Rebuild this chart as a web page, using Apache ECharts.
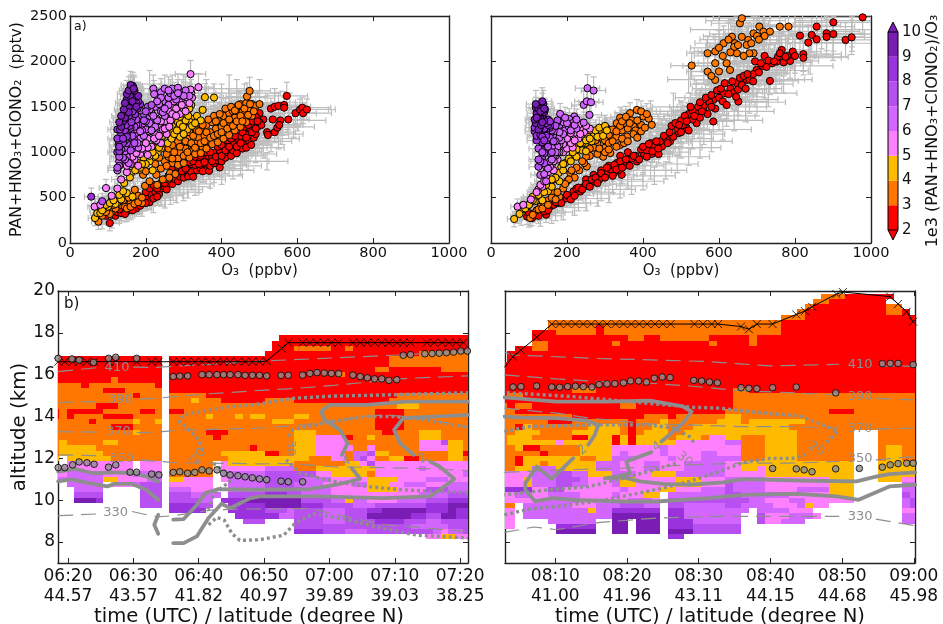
<!DOCTYPE html>
<html><head><meta charset="utf-8">
<style>html,body{margin:0;padding:0;background:#fff}#c{width:943px;height:624px}</style>
<script src="https://cdn.jsdelivr.net/npm/echarts@6/dist/echarts.min.js"></script></head>
<body><div id="c"></div><script>
// ---------- colour classes of the ratio 1e3 (PAN+HNO3+ClONO2)/O3 ----------
const classCodes=['r','o','y','p','l','m','v','d'];
const classColors=['#ff0000','#ff7700','#ffbb00','#ff80ff','#d366ff','#b84ff0','#9a33dd','#7a1db5'];
const colorbarTicks=[2,3,4,5,6,7,8,9,10];
// ---------- scatter: first flight part, [O3 ppbv, NOy pptv] ----------
const redA=[[105,220],[95,300],[110,310],[120,300],[125,340],[135,330],[140,360],[150,350],[155,390],[165,400],[170,430],[175,380],[180,460],[190,440],[195,480],[205,500],[210,450],[215,530],[225,560],[235,540],[240,600],[250,620],[255,590],[262,660],[270,650],[278,700],[285,680],[290,730],[300,720],[310,760],[312,733],[320,780],[325,730],[335,800],[345,820],[350,790],[360,870],[367,795],[370,850],[380,880],[395,832],[390,910],[400,900],[410,940],[415,1000],[425,960],[430,1020],[440,990],[445,1070],[455,1040],[460,1100],[465,1050],[470,1130],[478,1080],[485,1160],[490,1200],[495,1280],[250,700],[260,740],[270,780],[280,800],[290,830],[300,800],[310,850],[320,870],[330,860],[340,900],[350,880],[355,940],[365,960],[375,950],[385,1000],[395,1020],[405,1060],[410,1100],[420,1130],[430,1090],[440,1160],[450,1180],[460,1210],[470,1190],[475,1260],[485,1300],[500,1430],[510,1360],[520,1220],[522,1190],[530,1480],[535,1360],[540,1500],[550,1510],[565,1520],[565,1490],[572,1620],[555,1350],[576,1360],[540,1220],[547,1270],[552,1300],[595,1430],[607,1470],[613,1490],[615,1430],[625,1470],[490,1390],[500,1330],[505,1300],[130,370],[145,320],[165,360],[185,410],[200,440],[220,490],[230,510],[200,560],[210,600],[220,640],[230,600],[240,660],[250,660],[260,700],[265,760],[270,810],[280,770],[285,840],[295,790],[300,880],[305,820],[310,920],[315,890],[325,900],[330,950],[340,870],[345,960],[355,890],[360,1000],[370,1000],[375,900],[385,950],[390,1060],[400,960],[400,1080],[410,1020],[415,1130],[420,1060],[425,1150],[435,1180],[440,1060],[450,1100],[455,1220],[460,1280],[465,1160],[470,1300],[480,1220],[482,1340],[490,1260],[495,1340]];
const orangeA=[[75,235],[85,300],[100,350],[110,340],[120,380],[135,420],[150,450],[165,490],[175,470],[190,440],[171,586],[198,630],[228,751],[264,770],[193,751],[184,806],[200,790],[240,820],[250,900],[260,950],[265,1000],[270,880],[280,1050],[285,930],[290,1000],[295,1100],[300,960],[305,1040],[315,1150],[320,1010],[325,1080],[330,1200],[335,1100],[340,1160],[345,1260],[350,1050],[355,1180],[360,1300],[365,1120],[370,1220],[375,1330],[385,1260],[390,1350],[395,1160],[400,1280],[405,1400],[410,1220],[415,1330],[420,1430],[425,1300],[430,1450],[435,1380],[440,1500],[445,1300],[450,1530],[455,1440],[460,1380],[465,1540],[470,1480],[467,1613],[474,1675],[480,1530],[490,1510],[500,1530],[255,850],[270,930],[285,860],[300,880],[315,940],[330,980],[345,990],[360,1040],[375,1090],[390,1110],[405,1150],[420,1190],[435,1240],[450,1280],[465,1330],[480,1400],[115,420],[130,460],[145,400],[160,440],[180,520],[210,680],[230,640],[245,700],[262,720],[278,760],[225,870],[235,940],[250,1040],[265,1120],[280,1160],[255,980],[260,1040],[270,1080],[275,1000],[285,1120],[290,1060],[295,1180],[305,1120],[310,1000],[315,1220],[320,1100],[325,1180],[330,1050],[335,1240],[340,1230],[345,1100],[350,1300],[355,1120],[360,1220],[365,1360],[370,1160],[380,1400],[380,1180],[385,1340],[390,1200],[395,1420],[400,1220],[405,1320],[410,1480],[415,1260],[420,1360],[425,1500],[430,1290],[435,1460],[440,1340],[445,1520],[450,1400],[455,1340],[460,1480],[470,1410],[475,1530],[485,1450],[150,380],[160,400],[170,430],[180,450],[190,500],[140,470],[155,500],[125,440],[105,320],[95,340]];
const amberA=[[66,275],[72,330],[80,330],[90,380],[100,400],[110,470],[125,500],[143,660],[150,550],[161,770],[158,722],[180,880],[195,930],[205,1000],[215,1040],[225,1090],[232,1000],[240,1150],[250,1200],[258,1100],[265,1230],[275,1290],[285,1260],[290,1170],[300,1400],[310,1450],[311,1547],[350,1466],[356,1606],[380,1602],[300,1330],[320,1370],[335,1400],[270,1380],[280,1350],[120,430],[135,480],[165,510],[210,900],[225,960],[240,1040],[255,1300],[270,1170],[285,1330],[310,1250],[318,1330],[345,1350],[185,830],[200,870],[218,800],[230,1120],[245,1180],[255,1240],[262,1290],[268,1150],[275,1200],[282,1240],[290,1310],[298,1280],[305,1350],[312,1400],[322,1290],[330,1320],[300,1200],[210,960],[218,1000],[235,1050],[190,870],[172,800],[85,360],[95,420],[105,440],[115,470],[130,530],[140,570],[290,1390],[320,1520],[315,1480]];
const pinkA=[[65,400],[80,420],[95,605],[110,520],[125,600],[135,700],[150,780],[170,920],[180,850],[195,1000],[205,1150],[215,1060],[225,1200],[235,1280],[240,1100],[250,1340],[215,1300],[255,1200],[265,1350],[275,1560],[290,1420],[300,1480],[305,1530],[310,1600],[320,1650],[339,1716],[318,1860],[318,1690],[160,870],[190,1100],[205,1050],[228,1130],[245,1250],[185,980],[220,1260],[200,1220],[260,1450],[280,1480],[290,1550],[322,1600],[150,850],[165,950],[175,990],[185,1040],[200,1100],[210,1230],[222,1150],[235,1180],[250,1260],[262,1280],[270,1420],[280,1400],[295,1520],[305,1450],[315,1540],[240,1340],[228,1370],[190,1040],[205,970]];
const lilacA=[[125,800],[130,900],[140,1000],[150,950],[160,1100],[170,1050],[175,1200],[185,1150],[190,1300],[200,1250],[205,1380],[215,1430],[225,1500],[230,1350],[240,1450],[245,1560],[250,1400],[220,1700],[240,1660],[250,1700],[270,1700],[285,1710],[295,1650],[305,1680],[315,1620],[280,1580],[260,1600],[150,1020],[165,1150],[180,1050],[195,1180],[210,1320],[225,1280],[245,1440],[260,1520],[180,1300],[170,1250],[222,1640],[300,1620],[155,880],[145,920],[135,950],[145,1010],[155,1150],[160,1220],[170,1130],[178,1100],[190,1240],[200,1340],[215,1240],[220,1400],[235,1530],[250,1480],[265,1650],[275,1620],[285,1650],[260,1680],[240,1600],[230,1560],[185,1230],[165,1070],[150,1250],[210,1470]];
const mediumA=[[85,460],[130,850],[125,1000],[135,1150],[145,1050],[155,1250],[165,1180],[175,1300],[185,1380],[190,1450],[205,1500],[125,830],[140,940],[150,1100],[160,1020],[170,1280],[180,1400],[195,1420],[215,1520],[195,1350],[155,1450],[170,1450],[135,1030],[145,1130],[150,1190],[160,1270],[165,1340],[175,1360],[185,1460],[200,1450],[140,1220],[130,950],[155,1350],[170,1100]];
const violetA=[[56,510],[130,1010],[128,1080],[135,1190],[140,1100],[145,1240],[150,1170],[140,1300],[150,1350],[158,1290],[165,1380],[172,1420],[160,1450],[150,1480],[168,1520],[178,1480],[185,1530],[155,1540],[175,1580],[130,1130],[125,1250],[138,1380],[130,1060],[125,1150],[132,1250],[140,1150],[148,1300],[155,1400],[162,1330],[170,1480],[180,1560],[165,1450],[150,1530],[145,1450],[160,1510],[172,1550]];
const darkA=[[140,1340],[148,1420],[155,1500],[160,1560],[165,1600],[162,1640],[165,1680],[166,1730],[160,1700],[170,1620],[180,1620],[175,1540],[145,1380],[135,1280],[150,1580],[158,1620],[130,1330],[145,1540],[150,1640],[155,1680],[170,1680],[165,1560],[175,1500],[155,1440],[142,1470],[160,1740],[168,1700],[135,1400]];
const greyOnlyA=[[100,280],[130,300],[160,340],[190,380],[220,420],[250,470],[280,540],[310,590],[340,650],[370,700],[400,740],[430,800],[450,850],[470,900],[490,980],[510,1050],[530,1120],[560,1200],[590,1280],[430,1000],[470,1100],[500,1200],[540,1300],[440,1650],[400,1600],[420,1550],[380,1500],[360,1550],[500,1650],[540,1550],[580,1500],[350,760],[380,820],[410,860],[290,620],[320,680],[200,460],[170,430],[140,360],[120,330],[85,240],[110,250],[520,900],[460,960],[400,820],[300,560],[265,520],[300,1700],[360,1650],[420,1700],[460,1600],[480,1350],[520,1250],[560,1300],[600,1350],[210,1750],[450,1000],[500,1120],[550,1150],[420,900],[380,760],[330,620],[240,500],[180,400],[150,320],[90,290],[75,280],[70,360],[100,500]];
// ---------- scatter: second flight part ----------
const redB=[[145,312],[108,275],[156,403],[195,488],[182,476],[217,568],[235,568],[270,678],[296,733],[323,770],[344,751],[331,880],[358,880],[384,898],[401,990],[423,982],[441,979],[450,1063],[471,1118],[493,1210],[515,1265],[541,1320],[585,1338],[559,1466],[585,1576],[612,1650],[651,1558],[647,1760],[673,1796],[699,1906],[734,1785],[752,1998],[787,2005],[765,2126],[794,2108],[822,2080],[822,2040],[813,2284],[835,2207],[844,2291],[857,2243],[857,2383],[883,2309],[883,2270],[901,2302],[901,2430],[933,2236],[949,2265],[978,2485],[95,290],[120,330],[130,340],[165,420],[175,440],[205,510],[225,600],[245,620],[255,650],[285,700],[305,780],[315,810],[335,800],[350,850],[370,930],[380,960],[395,1030],[410,1020],[420,1100],[430,1060],[445,1120],[460,1150],[480,1170],[490,1260],[505,1300],[520,1240],[530,1360],[520,1420],[540,1440],[550,1380],[560,1510],[570,1420],[575,1550],[590,1480],[600,1600],[610,1560],[620,1520],[630,1700],[640,1660],[650,1690],[660,1740],[670,1700],[680,1800],[690,1860],[705,1880],[715,1950],[725,1940],[740,1980],[755,2050],[770,1990],[780,2060],[340,960],[360,1000],[310,850],[290,800],[270,750],[250,700],[500,1350],[530,1460],[545,1500],[100,330],[110,320],[125,300],[140,350],[150,360],[170,450],[185,440],[200,530],[210,480],[220,520],[230,610],[240,590],[250,650],[260,620],[265,700],[275,720],[280,660],[290,770],[300,720],[305,830],[320,740],[325,860],[330,810],[340,900],[345,830],[355,920],[365,850],[375,960],[390,920],[400,1060],[410,950],[415,1090],[425,1010],[435,1120],[440,1040],[455,1180],[465,1100],[470,1220],[475,1290],[485,1320],[495,1300],[500,1220],[510,1400],[515,1340],[525,1500],[535,1400],[550,1550],[555,1450],[565,1600],[580,1630],[580,1500],[595,1680],[605,1700],[615,1760],[625,1640],[635,1780],[645,1610],[655,1820],[665,1840],[675,1860],[690,1780],[695,2000],[710,1980],[720,2060],[730,2010],[745,2000],[760,2090],[775,2050],[800,2060]];
const orangeB=[[528,1954],[570,2090],[570,1888],[590,1980],[590,2110],[612,2200],[634,2272],[642,2200],[655,2420],[660,2475],[677,2236],[691,2309],[706,2383],[717,2328],[734,2328],[760,2383],[783,2383],[647,2090],[620,1980],[629,1906],[673,2181],[691,2090],[590,1796],[625,2240],[660,2270],[700,2280],[720,2280],[640,2160],[600,2150],[680,2090],[384,1466],[401,1393],[366,1430],[375,1283],[423,1301],[331,1320],[304,1265],[310,1190],[358,1173],[314,990],[295,950],[252,843],[209,770],[232,800],[165,550],[103,275],[395,1450],[415,1370],[410,1420],[345,1240],[360,1260],[330,1170],[320,1250],[280,1090],[290,1160],[270,1050],[300,1050],[340,1080],[260,960],[245,880],[220,720],[190,600],[150,470],[130,400],[120,360],[180,510],[200,680],[300,1130],[350,1320],[340,1380],[370,1350],[380,1240],[395,1300],[310,1100],[350,1100],[280,980],[330,1230],[340,1290],[345,1340],[355,1390],[365,1320],[385,1350],[395,1230],[405,1270],[320,1120],[300,1000],[285,1040],[275,1130],[260,1040],[250,950],[240,900],[225,830],[212,800],[205,700],[195,650],[175,560],[160,500],[140,430],[110,310],[125,370],[135,380],[150,420],[170,480],[310,1030],[330,1060],[345,1150],[360,1120],[375,1200],[385,1160],[610,2060],[650,2180],[665,2060],[685,2200],[705,2240],[630,2100],[600,1890],[580,1840]];
const amberB=[[61,264],[82,367],[103,440],[121,513],[143,605],[156,660],[178,770],[195,880],[217,971],[231,1063],[248,1100],[270,1191],[292,1228],[260,1240],[280,1170],[240,1020],[225,1030],[205,930],[240,1100],[255,1170],[185,840],[165,700],[150,570],[130,560],[115,460],[95,400],[75,320],[135,470],[110,510],[295,1180],[250,1010],[265,1120],[300,1250],[180,680],[160,620],[170,720],[190,800],[210,900],[225,950],[235,1100],[250,1130],[260,1150],[275,1240],[285,1270],[300,1290],[305,1240],[90,380],[100,420],[110,470],[125,530],[140,560],[160,700],[145,640],[190,870],[215,1000]];
const pinkB=[[70,400],[85,420],[105,480],[125,590],[135,620],[145,730],[160,860],[175,920],[190,1000],[200,1040],[170,1030],[185,1100],[205,1130],[215,1180],[225,1210],[200,1200],[190,1180],[215,1050],[230,1150],[245,1220],[260,1260],[170,960],[150,780],[165,800],[235,1270],[210,1100],[180,1000],[120,560],[130,640],[140,680],[155,840],[165,900],[175,1000],[190,1090],[200,1150],[210,1210],[220,1130],[235,1200],[250,1290],[180,1080],[170,1100],[160,960],[215,1280],[230,1300]];
const lilacB=[[254,1705],[270,1679],[244,1521],[252,1560],[263,1550],[219,1393],[206,1364],[244,1327],[182,1422],[259,1411],[130,750],[145,840],[155,900],[165,960],[175,1060],[185,1130],[195,1240],[205,1280],[180,1300],[165,1180],[155,1090],[170,1240],[190,1330],[215,1320],[225,1260],[160,1050],[145,680],[140,760],[150,820],[160,920],[170,1000],[180,1160],[190,1200],[200,1320],[210,1240],[220,1300],[170,1120],[180,1220],[155,990],[165,1230],[195,1380],[175,1340],[225,1360]];
const mediumB=[[125,840],[135,950],[145,1030],[150,1140],[155,1200],[165,1300],[175,1350],[160,1000],[140,880],[135,1100],[125,1040],[130,900],[140,990],[145,1100],[150,1060],[155,1160],[160,1240],[170,1290],[165,1120],[135,1000],[145,1210],[125,920],[155,1270]];
const violetB=[[115,1230],[125,1180],[135,1110],[145,1260],[155,1290],[125,1300],[135,1240],[145,1180],[120,1130],[150,1360],[120,1180],[130,1190],[140,1260],[128,1260],[150,1300],[115,1270],[135,1170],[145,1320],[125,1340],[140,1130],[155,1340]];
const darkB=[[118,1320],[125,1250],[132,1300],[140,1350],[120,1430],[118,1490],[135,1400],[140,1440],[135,1500],[138,1530],[142,1470],[130,1370],[115,1360],[125,1370],[135,1330],[125,1480],[120,1380],[118,1530],[130,1450],[140,1480],[135,1560]];
const greyOnlyB=[[100,260],[130,270],[160,300],[190,340],[220,390],[250,440],[280,490],[310,540],[340,590],[370,630],[400,680],[430,740],[460,800],[490,870],[520,950],[550,1050],[580,1120],[610,1250],[640,1350],[670,1450],[700,1550],[730,1650],[770,1800],[800,1950],[840,2050],[900,2200],[950,2350],[620,2100],[560,1950],[520,1800],[480,1500],[420,1450],[440,1300],[600,2350],[640,2450],[700,2450],[800,2480],[900,2450],[540,1600],[350,1000],[430,1040],[470,1000],[530,1150],[600,1350],[650,1500],[690,1700],[750,1800],[500,1050],[400,850],[320,650],[650,2300],[720,2400],[820,2400],[870,2330],[950,2300],[600,1750],[640,1900],[500,1450],[450,1250],[380,1350],[350,1250],[300,1180],[250,1000],[560,1200],[620,1400],[680,1580],[720,1750],[760,1900],[420,800],[360,700],[290,560],[230,440],[170,330],[80,280],[70,300]];
// readings of the error bars: half-widths by O3 and by NOy bin
const errO3Bins=[[100,18],[200,25],[300,32],[400,40],[600,55],[800,75],[1001,100]];
const errNoyBins=[[500,85],[1000,95],[1500,115],[2000,150],[2600,190]];
// ---------- curtains: one run-length row per altitude, one letter per class ('.' = no data) ----------
const rowAltsA=[17.75,17.5,17.25,17,16.75,16.5,16.25,16,15.75,15.5,15.25,15,14.75,14.5,14.25,14,13.75,13.5,13.25,13,12.75,12.5,12.25,12,11.75,11.5,11.25,11,10.75,10.5,10.25,10,9.75,9.5,9.25,9,8.75,8.5,8.25];
const rowsA=[
"15. . 13. 2. 26r",
"15. . 13. . 27r",
"15. . 13. . 3r 5o 2r o 16r",
"15. . 13. 21r 7o",
"15r . 13r 17r 11o",
"15r . 13r 17r 11o",
"15r . 13r 15r 2o 7r 4o",
"15r . 13r 10r o 17r",
"8r o 6r . 13r 28r",
"4o r 9o r . 13r 28r",
"7o 3r 5o . 13r 28r",
"11o r 3o . 5o 8r 18r 10o",
"15o . 3o y 3o 6r 4o 13r 11o",
"6o 3r 6o . 13o 18o 3y 7o",
"r o 5r 5o 2r o . 2r 11o 15o 4r 9o",
"r o r 4o 4r 4o . 5o y 3o y o 2y 4o 2y 9o 4r 9o",
"5o r 5o y 2o y . 13o o 3y 11o 4r 9o",
"8o 3r 4o . 13o 15o 4r 9o",
"11o y 3o . 5o 3r 5o 4o 3y 5o 4o 2r 3o 3y 4o",
"15o . 6o r 6o 4o 3y 4p r 2o y 6o 3y 4o",
"o y 5o 2y 6o . 13o 4o 3y 4p 10o 3p m 2y o",
"o 5y 9o . 11o r o 4o 3y 5p 2o p 6o 4p 2y o",
"o 6y 8o . 7o 6y 2r 2o 3y 4p o 2l m 2y 3o 5o 2y r",
"y . 6y 7o . 8o 5y 6y 3o 2p o l m p 2o 2y 2r 4o 2y o",
"2. 9p . 3p . 6o . p 5y 4y 7o 2y p m 13p",
". 10p . 3p . 6o . p 5p 4l 3o 8y 6p l 6p",
"2p 5l 4p l 3l . 6o . p 5l 7m 2p 5y o 12p l",
"7l 2y 4p 2l . 2y 4p . p 5l 5m 4l 5p 4y 4p 3l 3p",
"2. 5l . 3p l 3m . 6p 2. 5l 4m 4l 4p 2l 3y 2p 3l 3p 3l",
"3. 4l 5. 3m . 3l 3p 2. 5l 5m 4l 5p 4y 4p 3m 3l",
"3. 4m 5. 3m . 3m 4l . 5m 3v 2m 4l 12p 4l 3m",
"3. 3d v 5. 3m . 4m 2l . v 2v 3d 5d 4m 2l y 2l 4p 4l 3m 3v",
"12. 3m . 4v 2m 2. 5v 5d 3v 4m 3l 7m 3v 3d",
"15. . 5v 3. 5v 3m l 4m 3l 3m 2v 6d 3v d 2v",
"15. . 9. 4v 2v 2l 4m 3l 3m 6d 2v 2m 2d 2v",
"15. . 10. 3m 4. 4m 3l 4m 4v 3m 2l 4m",
"15. . 13. 4. 4m 12m 5l 3m",
"15. . 13. 4. 4v 3m 3l 9m l p 2l m",
"15. . 13. 22. 2p 2y 2p"
];
const rowAltsB=[19.75,19.5,19.25,19,18.75,18.5,18.25,18,17.75,17.5,17.25,17,16.75,16.5,16.25,16,15.75,15.5,15.25,15,14.75,14.5,14.25,14,13.75,13.5,13.25,13,12.75,12.5,12.25,12,11.75,11.5,11.25,11,10.75,10.5,10.25,10,9.75,9.5,9.25,9,8.75,8.5,8.25];
const rowsB=[
"6. 22. 12. 3o 6r 3.",
"6. 22. 11. 2o 7r 4.",
"6. 22. 10. o 9r 2o 2.",
"6. 22. 9. o 10r 2o r .",
"6. 22. 7. 3o 14r",
"6. 22o 7o 17r",
"6. 6o r 15o 7o 17r",
"4. 2r r 5o r 15o 7o 17r",
"4. 2r 10r 2o 2r 6o 2r 3r o 20r",
"4. 2o 8r o 11r o r 3r o 20r",
"2. 2r 2o 22r 24r",
". 5r 22r 24r",
". 5r 22r 24r",
"6r 22r 24r",
"6r 22r 24r",
"6r 22r 24r",
"6r 22r 24r",
"6r 22r 24r",
"6r 3r 3o 16r r 2o 21r",
"r 2o 3r 22r r 23o",
"6r 22r r 23o",
"o r 2o 2r 9r 2o 11r r 23o",
"2o 4r 22r 13o 3r 8o",
"6o 3o 9r 2o o r 6o 2y 22o",
"6o 3r 3o 4o r 3o y 6o y 2y o 7y 14o",
"2o r y 2o 5o 4y o r 2o 2y 3o 4y 8y 16o",
"2o 3y o 3o 6y o r o 3y 2o 5y 9y 7o 3. 5o",
"o 3y 2o 3o 2r 2y y r y r 2y 2y o 3y o 2p 2y 3o 4y 7o 3. 5o",
"o 5y y p 6y r y r 2y 2y y 3p 3p 2l 3o 4y 7o 3. 5o",
"2o y 2r o 4o 4y 6p l 3p 3p p 2p 3o 4y 7o 3. o 2y 2o",
"5o r 4o 4y p l 4p l 3p p 2l p 2p 3o 4y 7o 3. o 2y 2o",
"2o r 3y 4y 2o 2y 3l 4p l 3p 3l 2l 3o 4y 7o 3. o 2y 2o",
"2o r 2y o 6y 3l 3p 2l 3p 5l 2p 14y 3. 5y",
"2o 2y 2l l 5y 3l 3p 2l 3p 5l 2p 2y p 11y 3. 5y",
"4p 2l l 2m 2l 3y 3l 2p 3y 6l 5p 11y 3. 5y",
"3p y 2l l 3m l 3p l 2y 5p 3y 3p 5l 8p 3y 3. 3y 2p",
"3p y 2l l 2m 2l 3p l 2y 5p 3y 3p m 4l 8p 3y 6. 2l",
"4v 2p 2m 5p 2p l p 3p 2y 3p 3l m 4l 4p 4l 3y 6. 2l",
"2p 2l 2p 4l 4p l 3p 2y . 7l 2m 3l 3l 5p 3y 6. m l",
"5p l 4l 6p 3l p . 7m 3m 2l 3p 2l 3p 3p 6. l m",
"2o . 3l 3l 3p 3l 3m 2l . 2m 5l 2m 4l 3p l y 2p 9. l m",
"2p . 3l 5l y 2l 6v . 2v 5l 3l . l 3l 3p 2. 9. 2p",
"2p . 3l 8l 6d . 2v 5l 2l 2. m 3p 3l p . 9. 2l",
"2p 4. 6l 2. 2d . 3d . 3v 4l 2l 2. m 2p 3l 3. 9. 2l",
"2p 4. . 5v 2. 2d . 3d . 3v 4m 2m 22.",
"6. . 5d 2. 2d . 3d . 3d 4m 2m 22.",
"6. 15. 2v 5. 24."
];
const cellStartA=377.55, cellStepA=1.1225, cellStartB=482.19, cellStepB=1.1227;
// ---------- contours in the curtains: [time in minutes of the day, altitude]; null = a gap ----------
const thetaA=[
[[378.5,16.15],[384.9,16.35],null,[390,16.36],[393.6,16.35],[396.1,16.4],[402.2,16.5],[409.4,16.65],[420.6,16.8],[430.3,16.94],[441.2,17.1]],
[[378.5,14.67],[384.9,14.72],null,[391,14.83],[393.6,14.87],[396.1,14.95],[402.2,15.1],[409.4,15.25],[415,15.35],[421,15.5],[432,15.83],[441.2,15.94]],
[[378.5,13.28],[384.5,13.25],null,[390.5,13.23],[393.6,13.25],[396.1,13.33],[402.2,13.39],[409.4,13.44],[416,13.6],[421,13.84],[428,14.07],[432,14.0],[436,13.8],[441.2,13.52]],
[[378.5,12.17],[385.5,12.12],null,[391,11.93],[396.1,11.8],[402.2,11.77],[409.4,11.74],[414,11.75],[420.6,11.6],[433,11.53],[441.2,11.42]],
[[378.5,9.26],[384.8,9.35],null,[389.8,9.46],[393.6,9.2],[396.1,9.26],[402.2,9.54],[406.8,9.58],[417,9.6],[428.3,8.83],[441.2,8.5]]];
const thetaB=[
[[483,17.05],[484.2,16.94],[495.8,16.78],[511.1,16.63],[515.7,16.52],[519.9,16.42],[529.6,16.5],null,[535.2,16.42],[540.2,16.4]],
[[482.9,15.99],[490.2,15.8],[496.2,15.67],[503.2,15.59],[508.7,15.46],[515.7,15.24],[522.7,15.14],[529.6,15.03],null,[534.7,14.87],[540.2,14.79]],
[[482.9,14.4],[490.2,14.16],[494.8,13.92],[503.2,13.65],[508.7,13.6],[515.7,13.52],[522.7,13.52],[529.6,13.44],null,[534.7,13.41],[540.2,13.44]],
[[482.9,11.33],[490.2,11.45],[499.5,11.53],[508.7,11.69],[515.7,11.77],[522.7,11.77],[529.6,11.85],null,[534.7,11.93],[540.2,12.09]],
[[482.9,8.46],[487,8.72],[490.2,8.59],[496.2,8.94],[504.1,9.15],[513.4,9.23],[522.7,9.23],[529.6,9.23],null,[534.7,9.1],[540.2,8.78]]];
const solidA=[
[[378.5,11.37],[381.1,11.5],[383.9,11.29],[387.2,11.33],[390,11.29],[392,11.13],[393.8,10.9]],
[[378.5,10.9],[380.6,11],[383.4,10.8],[386,10.66],[387.2,10.78],[389.8,10.78],[392,10.5],[393.8,10.02]],
[[393.8,9.3],[393.2,8.83],[393.8,8.4]],
[[396.1,9.07],[397.7,9.1],[399.5,9.7],[401,10.34],[403,10.53],[407.9,10.5],[417,10.53],[421.1,10.74],[424.7,11.02],[423.4,11.54],null,[421.9,12.17],[422.8,12.73],[421.6,13.36],[419.3,13.84],[418.7,14.24],[420.1,14.56],[425.7,14.56],[431.8,14.71],[441.2,14.71]],
[[396.1,7.95],[397.7,7.95],[399.7,8.27],[401.5,9.15],[403.5,9.83],[404.8,9.62],[407.9,10.1],[409.4,10.18],[418.1,10.18],[428.3,10.1],[435.4,10.18],[436.9,10.5],[439.1,11.02],[436.9,11.6],[435.4,11.85],null,[432.9,12.17],[430.8,12.73],[429.9,13.36],[431.3,13.92],[441.2,14.08]]];
const solidB=[
[[482.9,14.92],[490.2,14.71],[497.1,14.71],[503.2,14.76],[507.8,14.48],[509,14.24],[507.8,13.68],[504.8,12.81],null,[503.4,12.3],[499.9,11.85],[500.4,11.29],[498.5,11.13],[496.9,11.05],[499.5,11.09],[501.8,10.9],[505,10.78],[508.7,10.74],[513.4,10.85],[516.2,11.01],[525.5,10.93],[532,10.9],[534.7,11.13],[536.6,11.25],[540.2,11.33]],
[[482.9,14],[485.5,13.95],[490.2,13.92],[494.4,13.8],[496,13.6],[495.5,13.12],[494.6,12.65],null,[492.5,12.01],[489.5,11.02],[487.4,11.61],[485.8,10.82],[485.8,10.5],[487.2,9.94],[489.7,10.1],[492.5,10.02],[499.5,9.94],[504.1,9.94],[511.5,10.1],[516.2,10.26],[523.6,10.31],[529.2,10.18],[532.3,10.02],[536.6,10.66],[540.2,10.74]]];
const dottedA=[
[[401.4,9.55],[402.4,10.34],[404.8,10.9],[404.3,11.3],[402.2,11.77],null,[400.7,12.4],[399.7,12.98],[398.3,13.45],[397,13.75],[397.7,14.1],[400.2,14.24],[405.3,14.48],[409.3,14.6],[414.4,14.87],[420.6,14.98],[428.3,15.03],[441.2,15.14]],
[[401.5,8.83],[402.8,9.18],[403.9,9.05],[405.1,8.4],[406.3,8.08],[409.3,8.11],[413,8.33],[414.7,8.88],[417.5,9.36],[423.1,9.05],[428.3,8.64],[433.4,8.33],[441.2,8.2]],
[[441.2,10.36],[431,10.5],[425.7,10.66],[420.6,10.9],[415.5,11.3],[413.4,11.93],null,[413.7,13.04],[414.4,13.36],[419,13.68],[425.2,14.0],[429.8,14.0],[434.4,13.84],[441.2,13.49]]];
const dottedB=[
[[482.9,9.3],[486.4,9.58],[490.2,9.7],[497.1,10.02],[505,10.58],[508.7,10.9],[511.5,11.21],[516.2,11.8],[519.9,12.0],[523.1,12.0],[525.5,12.25],null,[527.8,12.76],[529.4,13.28],[526.8,13.68],[524,14.03],[518,14.2],[512.9,14.4],[509.3,14.44],[492.5,14.95],[486.4,15.08],[482.9,15.14]],
[[482.9,13.28],[486.4,13.52],[494.8,13.6],[503.2,13.6],[506.5,13.44],[508.7,13.04],[509.4,12.73],null,[506.8,11.77],[504.1,11.48],[500.4,11.13],[494.8,10.66],[489.2,10.5],[482.9,10.26]]];
// grey circles and the black tropopause line
const markersA=[[378.5,16.78],[380.6,16.75],[381.7,16.7],[383.9,16.59],[386.2,16.78],[387.3,16.83],[390.5,16.78],[378.5,11.56],[379.5,11.56],[380.7,11.69],[381.7,11.83],[382.9,11.79],[384,11.72],[386.2,11.58],[387.3,11.69],[389.5,11.34],[390.5,11.34],[392.8,11.25],[393.9,11.21],[396.1,11.33],[397.1,11.36],[398.3,11.29],[399.4,11.33],[400.5,11.45],[401.6,11.4],[402.8,11.45],[403.8,11.29],[404.8,11.21],[406,11.17],[407.1,11.12],[408.2,11.07],[409.3,11.02],[410.4,10.98],[412.6,10.91],[413.7,10.88],[415.9,10.88],[396.1,15.91],[397.1,15.93],[398.3,15.94],[400.5,16],[401.6,16],[402.8,16],[403.8,16],[404.8,16],[406,16],[407.1,15.97],[408.2,15.97],[409.3,15.97],[410.4,15.94],[412.6,15.97],[413.7,15.97],[415.9,15.98],[417,16.06],[418.1,16.1],[419.2,16.08],[420.3,16.06],[421.4,16.05],[423.6,15.98],[424.7,15.91],[425.8,15.85],[426.9,15.8],[428,15.8],[429.1,15.73],[430.3,15.76],[431.3,16.93],[432.4,16.96],[434.6,17],[435.7,17.01],[436.8,17.03],[437.9,17.05],[439,17.08],[440.1,17.13],[441.1,17.13]];
const markersB=[[482.9,15.38],[484.1,15.41],[485.2,15.43],[487.4,15.46],[489.5,15.41],[490.6,15.4],[491.7,15.43],[492.8,15.45],[493.9,15.43],[495.1,15.41],[496.1,15.53],[497.2,15.56],[498.3,15.57],[499.5,15.61],[500.5,15.7],[501.6,15.7],[502.7,15.65],[503.8,15.83],[504.9,15.89],[506,15.86],[509.3,15.73],[510.4,15.7],[511.5,15.65],[512.6,15.61],[515.9,15.38],[517,15.35],[518.1,15.33],[520.3,15.38],[523.6,15.41],[529.1,15.13],[535.6,16.53],[536.7,16.54],[537.8,16.54],[539.9,16.48],[520.3,11.52],[523.6,11.5],[524.7,11.45],[525.8,11.36],[529.1,11.5],[532.4,11.52],[535.6,11.58],[536.7,11.69],[537.8,11.75],[539,11.77],[539.9,11.77]];
const tropA=[[378.5,16.62],[379.5,16.62],[380.7,16.62],[381.7,16.62],[382.9,16.62],[384,16.62],[386.2,16.62],[387.3,16.62],[390.5,16.62],[392.8,16.62],[393.9,16.62],[396.1,16.62],[397.1,16.62],[398.3,16.62],[399.4,16.62],[400.5,16.62],[401.6,16.62],[402.8,16.62],[403.8,16.62],[404.8,16.62],[406,16.62],[407.1,16.62],[408.2,16.62],[409.3,16.62],[410.4,16.65],[412.7,17.26],[413.7,17.53],[415.9,17.53],[417,17.53],[418.1,17.53],[419.2,17.53],[420.3,17.53],[421.4,17.53],[423.6,17.53],[424.7,17.53],[425.8,17.53],[426.9,17.53],[428,17.53],[429.1,17.53],[430.3,17.53],[431.3,17.53],[432.4,17.53],[434.9,17.53],[436,17.53],[437.2,17.53],[438.3,17.53],[439.4,17.53],[440.5,17.53]];
const tropB=[[482.9,16.35],[484.1,16.86],[485.2,17.18],[487.4,17.79],[489.5,18.42],[490.6,18.42],[491.7,18.42],[492.8,18.42],[493.9,18.42],[495,18.42],[496.1,18.42],[497.2,18.42],[498.4,18.42],[499.5,18.42],[500.6,18.42],[501.7,18.42],[502.8,18.42],[503.9,18.42],[505,18.42],[506.1,18.42],[509.4,18.42],[510.6,18.42],[511.8,18.42],[512.7,18.42],[515.9,18.3],[517,18.17],[518.1,18.42],[520.3,18.42],[523.6,18.88],[524.8,19.04],[525.8,19.25],[529.2,19.85],[530.1,19.95],[536.7,19.73],[537.8,19.38],[539,19.01],[539.9,18.53]];
// contour labels: [time, altitude, text, rotation in degrees]
const labelsA=[[387.5,16.35,'410',0],[388,14.8,'390',0],[387.7,13.3,'370',0],[388.2,12.0,'350',0],[387.3,9.41,'330',0],[400,12.1,'20',-55],[414,12.5,'30',90],[422.6,11.85,'4',-25],[434.3,12.0,'2',-30]];
const labelsB=[[532.5,16.5,'410',0],[532.5,14.95,'390',0],[532.5,13.42,'370',0],[532.5,12.0,'350',0],[532.5,9.22,'330',0],[493.8,12.4,'2',-40],[504.2,12.55,'4',-35],[508,11.95,'30',40],[526.4,12.45,'20',30]];
// ---------- axes text ----------
const tickTimesA=[380,390,400,410,420,430,440];
const tickClockA=['06:20','06:30','06:40','06:50','07:00','07:10','07:20'];
const tickLatA=['44.57','43.57','41.82','40.97','39.89','39.03','38.25'];
const tickTimesB=[490,500,510,520,530,540];
const tickClockB=['08:10','08:20','08:30','08:40','08:50','09:00'];
const tickLatB=['41.00','41.96','43.11','44.15','44.68','45.98'];
const altTicks=[8,10,12,14,16,18,20];

const FONT='"DejaVu Sans"';
const GRID=[{left:70,top:16,width:379,height:227,outerBoundsMode:'none'},{left:491,top:16,width:380,height:227,outerBoundsMode:'none'},
            {left:58,top:291,width:410,height:272,outerBoundsMode:'none'},{left:505,top:291,width:410,height:272,outerBoundsMode:'none'},
            {left:888,top:32,width:10,height:198,outerBoundsMode:'none'}];
const lineAxis={show:true,onZero:false,lineStyle:{color:'#222',width:1.4}};
const tickIn=(vals,len)=>({show:true,inside:true,length:len||5,lineStyle:{color:'#222',width:1},customValues:vals});
const xAxes=[],yAxes=[];
function addAxes(g,o){
  xAxes.push({gridIndex:g,type:'value',min:o.xmin,max:o.xmax,position:'bottom',axisLine:lineAxis,splitLine:{show:false},
    axisTick:tickIn(o.xt),axisLabel:{show:true,customValues:o.xt,color:'#111',fontFamily:FONT,fontSize:o.fx,margin:o.xm,lineHeight:o.lh,formatter:o.xf,hideOverlap:false,showMinLabel:true,showMaxLabel:true},
    name:o.xname,nameLocation:'middle',nameGap:o.xgap,nameTextStyle:{color:'#111',fontFamily:FONT,fontSize:o.fn,padding:o.xpad||0}});
  xAxes.push({gridIndex:g,type:'value',min:o.xmin,max:o.xmax,position:'top',axisLine:lineAxis,splitLine:{show:false},axisTick:tickIn(o.xt),axisLabel:{show:false}});
  yAxes.push({gridIndex:g,type:'value',min:o.ymin,max:o.ymax,position:'left',axisLine:lineAxis,splitLine:{show:false},
    axisTick:tickIn(o.yt),axisLabel:{show:!!o.yf,customValues:o.yt,color:'#111',fontFamily:FONT,fontSize:o.fy,margin:3,hideOverlap:false,formatter:o.yf},
    name:o.yname,nameLocation:'middle',nameGap:o.ygap,nameTextStyle:{color:'#111',fontFamily:FONT,fontSize:o.fnY}});
  yAxes.push({gridIndex:g,type:'value',min:o.ymin,max:o.ymax,position:'right',axisLine:lineAxis,splitLine:{show:false},axisTick:tickIn(o.yt),axisLabel:{show:false}});
}
const o3Ticks=[0,200,400,600,800,1000], noyTicks=[0,500,1000,1500,2000,2500];
const plain=v=>String(v);
addAxes(0,{xmin:0,xmax:1000,xt:o3Ticks,ymin:0,ymax:2500,yt:noyTicks,xf:plain,yf:plain,fx:14.5,fy:14.5,xm:3,xname:'O₃  (ppbv)',xgap:21,fn:15,yname:'PAN+HNO₃+ClONO₂  (pptv)',ygap:45,fnY:15.7});
addAxes(1,{xmin:0,xmax:1000,xt:o3Ticks,ymin:0,ymax:2500,yt:noyTicks,xf:plain,yf:null,fx:14.5,xm:3,xname:'O₃  (ppbv)',xgap:21,fn:15});
const fmt=(t,c,l)=>v=>{const i=t.indexOf(v);return i<0?'':c[i]+'\n'+l[i];};
addAxes(2,{xmin:378.47,xmax:441.2,xt:tickTimesA,ymin:7,ymax:20,yt:altTicks,xf:fmt(tickTimesA,tickClockA,tickLatA),yf:plain,fx:17,fy:17,xm:4,lh:19.5,xname:'time (UTC) / latitude (degree N)',xgap:43,fn:19.6,xpad:[0,28,0,0],yname:'altitude (km)',ygap:27,fnY:19.8});
addAxes(3,{xmin:482.98,xmax:540.16,xt:tickTimesB,ymin:7,ymax:20,yt:altTicks,xf:fmt(tickTimesB,tickClockB,tickLatB),yf:null,fx:17,xm:4,lh:19.5,xname:'time (UTC) / latitude (degree N)',xgap:43,fn:19.6});
// colour bar axes
xAxes.push({gridIndex:4,type:'value',min:0,max:1,show:false});
yAxes.push({gridIndex:4,type:'value',min:2,max:10,position:'right',axisLine:{show:false},splitLine:{show:false},
  axisTick:{show:false},axisLabel:{customValues:colorbarTicks,color:'#111',fontFamily:FONT,fontSize:15,margin:4,hideOverlap:false,formatter:plain},
  name:'1e3 (PAN+HNO₃+ClONO₂)/O₃',nameLocation:'middle',nameRotate:90,nameGap:20,nameTextStyle:{color:'#111',fontFamily:FONT,fontSize:16}});

const lookup=(bins,v)=>{for(const b of bins){if(v<b[0])return b[1];}return bins[bins.length-1][1];};
function errorSeries(pts,xi,yi){
  return {type:'custom',xAxisIndex:xi,yAxisIndex:yi,z:2,silent:true,clip:true,animation:false,
    data:pts.map(p=>[p[0],p[1],lookup(errO3Bins,p[0]),lookup(errNoyBins,p[1])]),encode:{x:0,y:1},
    renderItem(params,api){
      const x=api.value(0),y=api.value(1),ex=api.value(2),ey=api.value(3);
      const a=api.coord([x-ex,y]),b=api.coord([x+ex,y]),c=api.coord([x,y-ey]),d=api.coord([x,y+ey]);
      const s={stroke:'#bdbdbd',lineWidth:1.2,fill:null};
      const L=(x1,y1,x2,y2)=>({type:'line',shape:{x1,y1,x2,y2},style:s});
      return {type:'group',children:[L(a[0],a[1],b[0],b[1]),L(c[0],c[1],d[0],d[1]),L(a[0],a[1]-3,a[0],a[1]+3),L(b[0],b[1]-3,b[0],b[1]+3),L(c[0]-3,c[1],c[0]+3,c[1]),L(d[0]-3,d[1],d[0]+3,d[1])]};
    }};
}
function pointSeries(pts,cls,xi,yi,z){
  return {type:'scatter',xAxisIndex:xi,yAxisIndex:yi,z:z,data:pts,symbol:'circle',symbolSize:7.2,animation:false,silent:true,
    itemStyle:{color:classColors[cls],borderColor:'#000',borderWidth:1,opacity:1}};
}
function expandRow(row){
  let out='';
  row.replace(/(\d*)([a-z.])/g,(m,n,c)=>{out+=c.repeat(n?+n:1);return m;});
  return out;
}
function curtainSeries(rows,alts,start,step,xi,yi){
  const data=[];
  rows.forEach((r,ri)=>{
    const s=expandRow(r);
    for(let k=0;k<s.length;k++){
      const c=classCodes.indexOf(s[k]);
      if(c>=0) data.push([start+k*step,alts[ri],c]);
    }
  });
  return {type:'custom',xAxisIndex:xi,yAxisIndex:yi,z:1,silent:true,clip:true,animation:false,data:data,encode:{x:0,y:1},
    renderItem(params,api){
      const t=api.value(0),a=api.value(1),c=api.value(2);
      const p=api.coord([t,a+0.125]),q=api.coord([t+step,a-0.125]);
      const x=Math.round(p[0]),y=Math.round(p[1]),w=Math.round(q[0])-x,h=Math.round(q[1])-y;
      return {type:'rect',shape:{x,y,width:w,height:h},style:{fill:classColors[c]}};
    }};
}
function split(a){const out=[[]];a.forEach(p=>{if(p===null)out.push([]);else out[out.length-1].push(p);});return out.filter(x=>x.length>1);}
function lineSeries(list,xi,yi,style,z){
  const res=[];
  list.forEach(c=>split(c).forEach(seg=>res.push({type:'line',xAxisIndex:xi,yAxisIndex:yi,z:z,data:seg,showSymbol:false,symbol:'none',smooth:false,silent:true,animation:false,lineStyle:style})));
  return res;
}
const thetaStyle={color:'#8e8e8e',width:1.2,type:[15,8]};
const solidStyle={color:'#8e8e8e',width:3.8,cap:'round',join:'round'};
const dotStyle={color:'#8e8e8e',width:3.4,type:[3,3]};
function labelSeries(list,xi,yi){
  return {type:'custom',xAxisIndex:xi,yAxisIndex:yi,z:6,silent:true,clip:false,animation:false,data:list.map(l=>[l[0],l[1],l[3]]),encode:{x:0,y:1},
    renderItem(params,api){
      const p=api.coord([api.value(0),api.value(1)]),rot=api.value(2);
      return {type:'text',x:p[0],y:p[1],rotation:-rot*Math.PI/180,style:{text:list[params.dataIndex][2],fill:'#8e8e8e',font:'13px '+FONT,align:'center',verticalAlign:'middle'}};
    }};
}
function markerSeries(pts,xi,yi){return {type:'scatter',xAxisIndex:xi,yAxisIndex:yi,z:5,data:pts,symbol:'circle',symbolSize:6.6,silent:true,animation:false,itemStyle:{color:'#8e8e8e',borderColor:'#000',borderWidth:1}};}
function tropSeries(pts,xi,yi){return [
  {type:'line',xAxisIndex:xi,yAxisIndex:yi,z:4,data:pts,symbol:'none',silent:true,animation:false,lineStyle:{color:'#000',width:1}},
  {type:'scatter',xAxisIndex:xi,yAxisIndex:yi,z:4,data:pts,symbol:'path://M0,0L10,10M10,0L0,10',symbolSize:8,silent:true,animation:false,itemStyle:{color:'none',borderColor:'#000',borderWidth:1}}];}
const series=[];
// index of axes: grid g uses x/y axis index 2*g (first two per grid)
const groupsA=[redA,orangeA,amberA,pinkA,lilacA,mediumA,violetA,darkA];
const groupsB=[redB,orangeB,amberB,pinkB,lilacB,mediumB,violetB,darkB];
series.push(errorSeries(groupsA.flat().concat(greyOnlyA),0,0));
series.push(errorSeries(groupsB.flat().concat(greyOnlyB),2,2));
groupsA.forEach((g,i)=>series.push(pointSeries(g,i,0,0,3)));
groupsB.forEach((g,i)=>series.push(pointSeries(g,i,2,2,3)));
series.push(curtainSeries(rowsA,rowAltsA,cellStartA,cellStepA,4,4));
series.push(curtainSeries(rowsB,rowAltsB,cellStartB,cellStepB,6,6));
series.push(...lineSeries(thetaA,4,4,thetaStyle,3),...lineSeries(thetaB,6,6,thetaStyle,3));
series.push(...lineSeries(solidA,4,4,solidStyle,3),...lineSeries(solidB,6,6,solidStyle,3));
series.push(...lineSeries(dottedA,4,4,dotStyle,3),...lineSeries(dottedB,6,6,dotStyle,3));
series.push(...tropSeries(tropA,4,4),...tropSeries(tropB,6,6));
series.push(markerSeries(markersA,4,4),markerSeries(markersB,6,6));
series.push(labelSeries(labelsA,4,4),labelSeries(labelsB,6,6));
// colour bar: one rectangle per class, triangles at both ends, black sides
series.push({type:'custom',xAxisIndex:8,yAxisIndex:8,z:3,silent:true,clip:false,animation:false,
  data:classColors.map((c,i)=>[colorbarTicks[i],colorbarTicks[i+1],i]),encode:{y:[0,1]},
  renderItem(params,api){
    const lo=api.value(0),hi=api.value(1),i=api.value(2);
    const a=api.coord([0,lo]),b=api.coord([1,hi]);
    const k={stroke:'#000',lineWidth:1,fill:null};
    const kids=[{type:'rect',shape:{x:a[0],y:b[1],width:b[0]-a[0],height:a[1]-b[1]},style:{fill:classColors[i]}},
      {type:'line',shape:{x1:a[0],y1:a[1],x2:a[0],y2:b[1]},style:k},{type:'line',shape:{x1:b[0],y1:a[1],x2:b[0],y2:b[1]},style:k}];
    const tip=0.4*(a[1]-b[1])/(hi-lo);
    if(i===0)kids.push({type:'polygon',shape:{points:[[a[0],a[1]],[b[0],a[1]],[(a[0]+b[0])/2,a[1]+tip]]},style:{fill:classColors[0],stroke:'#000',lineWidth:1}});
    if(i===classColors.length-1)kids.push({type:'polygon',shape:{points:[[a[0],b[1]],[b[0],b[1]],[(a[0]+b[0])/2,b[1]-tip]]},style:{fill:classColors[i],stroke:'#000',lineWidth:1}});
    return {type:'group',children:kids};
  }});
const chart=echarts.init(document.getElementById('c'),null,{renderer:'canvas'});
chart.setOption({animation:false,backgroundColor:'#fff',grid:GRID,xAxis:xAxes,yAxis:yAxes,series:series,
  graphic:[{type:'text',left:74,top:20,style:{text:'a)',fill:'#111',font:'12.5px '+FONT}},
           {type:'text',left:64,top:297,style:{text:'b)',fill:'#111',font:'15px '+FONT}}]});
</script></body></html>
